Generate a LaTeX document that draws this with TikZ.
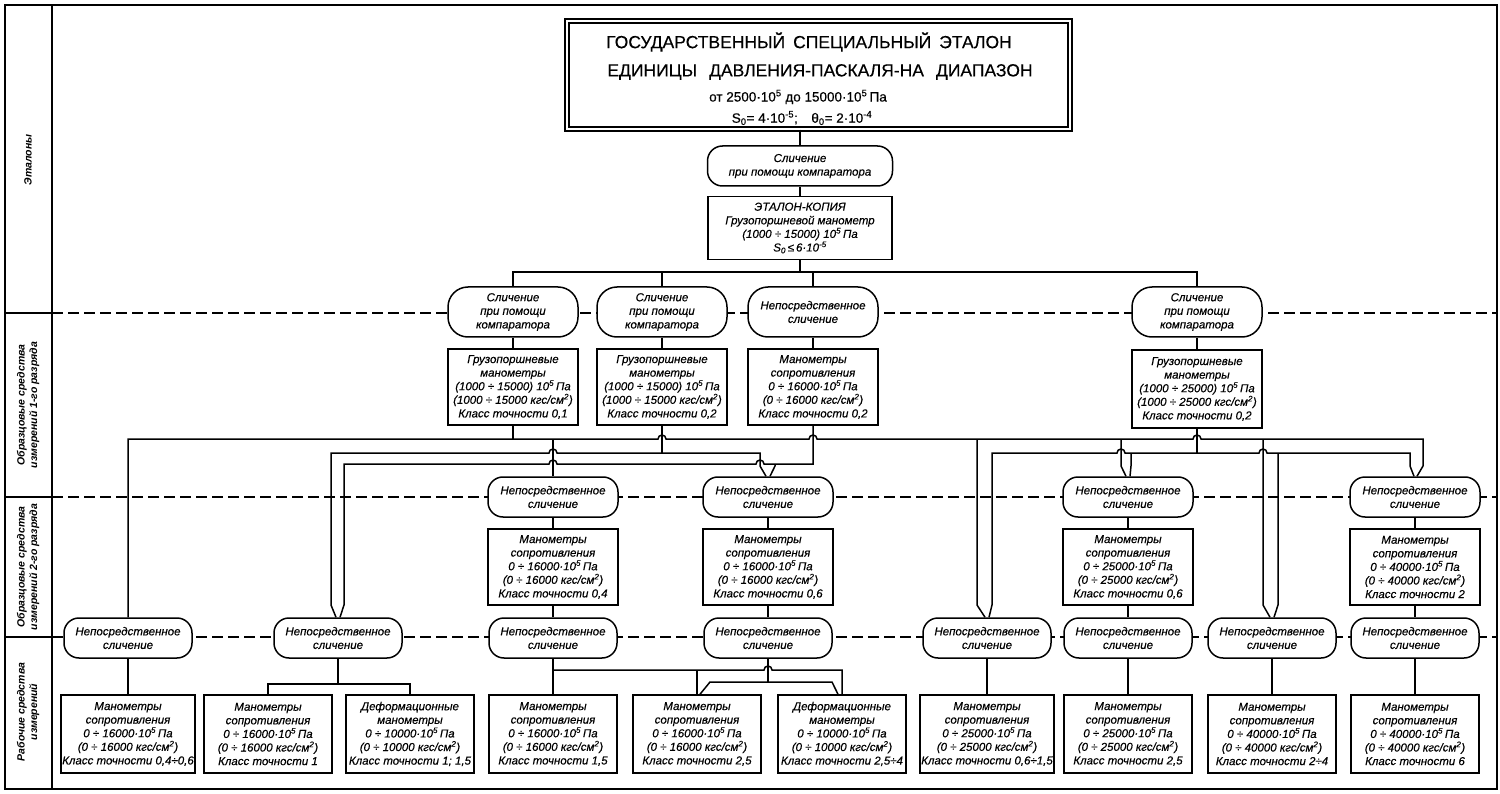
\documentclass[tikz,border=0pt]{standalone}
\usepackage{fontspec}
\setmainfont{Liberation Sans}
\newfontfamily\gostfont{Liberation Sans}[FakeBold=0.35]
\usetikzlibrary{positioning}
\newcommand{\boxfont}{\gostfont\itshape\fontsize{11.5}{13.6}\selectfont}
\newcommand{\pw}[1]{\textsuperscript{#1}}

\tikzset{
  sep/.style={line width=1.1pt, dash pattern=on 11pt off 5pt},
  oval/.style={draw, line width=1.5pt, fill=white, rounded corners=15pt, minimum width=130, minimum height=40, inner sep=1pt, align=center, font=\boxfont},
  bigoval/.style={oval, rounded corners=20pt, minimum height=50},
  oval3/.style={oval, minimum width=128},
  box/.style={draw, line width=1.5pt, fill=white, minimum width=130, minimum height=76, inner sep=1pt, align=center, font=\boxfont},
  box3/.style={box, minimum width=128, minimum height=78},
  strip/.style={rotate=90, align=center, font=\bfseries\itshape\fontsize{10.5}{12.5}\selectfont},
  titlebox/.style={draw, line width=1.4pt, double, double distance=2.6pt, minimum width=503, minimum height=108},
  titletext/.style={font=\gostfont\fontsize{17.5}{20}\selectfont, inner sep=0pt},
  subtext/.style={font=\gostfont\fontsize{13.5}{15}\selectfont, inner sep=0pt},
}

\begin{document}
\begin{tikzpicture}[x=1pt,y=-1pt,line width=1.5pt]
    \useasboundingbox (0,0) rectangle (1500,794);
    % frame and levels
    \draw[line width=1.6pt] (5,5) rectangle (1497,789);
    \draw (52,5) -- (52,789);
    \draw (5,313) -- (52,313);
    \draw (5,497) -- (52,497);
    \draw (5,637) -- (52,637);
    \draw[sep] (52,313) -- (1497,313);
    \draw[sep] (52,497) -- (1497,497);
    \draw[sep] (52,637) -- (1497,637);
    \node[strip] (s1) at (28,160) {Эталоны};
    \node[strip] (s2) at (28,405) {Образцовые средства\\измерений 1-го разряда};
    \node[strip] (s3) at (28,567) {Образцовые средства\\измерений 2-го разряда};
    \node[strip] (s4) at (28,712) {Рабочие средства\\измерений};

    % bus levels
    \coordinate (t0) at (0,272);
    \coordinate (l1) at (0,439);
    \coordinate (l2) at (0,453);
    \coordinate (l3) at (0,464);
    \coordinate (lv) at (0,466);
    \coordinate (lw) at (0,605);
    \coordinate (k3) at (0,670);
    \coordinate (k4) at (0,682);
    \coordinate (k2) at (0,684);

    % state standard
    \node[titlebox] (std) at (818.5,75) {};
    \node[titletext] (std1) at (809,42) {ГОСУДАРСТВЕННЫЙ\hspace{8pt}СПЕЦИАЛЬНЫЙ\hspace{8pt}ЭТАЛОН};
    \node[titletext] (std2) at (820,72) {ЕДИНИЦЫ\hspace{12pt}ДАВЛЕНИЯ-ПАСКАЛЯ-НА\hspace{12pt}ДИАПАЗОН};
    \node[subtext] (std3) at (798,97) {от 2500·10\pw{5} до 15000·10\pw{5}\,Па};
    \node[subtext] (std4) at (802,118) {S\textsubscript{0}= 4·10\pw{-5};\quad θ\textsubscript{0}= 2·10\pw{-4}};

    \node[oval, minimum width=185] (cmp) at (800,166) {Сличение\\при помощи компаратора};
    \node[box, minimum width=184, minimum height=63] (copy) at (800,228) {ЭТАЛОН-КОПИЯ\\Грузопоршневой манометр\\(1000 ÷ 15000) 10\pw{5}\,Па\\S\textsubscript{0}\,≤\,6·10\pw{-5}};

    % 1st rank
    \node[bigoval] (A1) at (513,312) {Сличение\\при помощи\\компаратора};
    \node[bigoval] (A2) at (662,312) {Сличение\\при помощи\\компаратора};
    \node[bigoval] (A3) at (813,312) {Непосредственное\\сличение};
    \node[bigoval] (A4) at (1197,312) {Сличение\\при помощи\\компаратора};
    \node[box] (B1) at (513,387) {Грузопоршневые\\манометры\\(1000 ÷ 15000) 10\pw{5}\,Па\\(1000 ÷ 15000 кгс/см\pw{2})\\Класс точности 0,1};
    \node[box] (B2) at (662,387) {Грузопоршневые\\манометры\\(1000 ÷ 15000) 10\pw{5}\,Па\\(1000 ÷ 15000 кгс/см\pw{2})\\Класс точности 0,2};
    \node[box] (B3) at (813,387) {Манометры\\сопротивления\\0 ÷ 16000·10\pw{5}\,Па\\(0 ÷ 16000 кгс/см\pw{2})\\Класс точности 0,2};
    \node[box, minimum height=78] (B4) at (1197,389) {Грузопоршневые\\манометры\\(1000 ÷ 25000) 10\pw{5}\,Па\\(1000 ÷ 25000 кгс/см\pw{2})\\Класс точности 0,2};

    % 2nd rank
    \node[oval] (O2a) at (553,497) {Непосредственное\\сличение};
    \node[oval] (O2b) at (768,497) {Непосредственное\\сличение};
    \node[oval] (O2c) at (1128,497) {Непосредственное\\сличение};
    \node[oval] (O2d) at (1415,497) {Непосредственное\\сличение};
    \node[box] (M2a) at (553,567) {Манометры\\сопротивления\\0 ÷ 16000·10\pw{5}\,Па\\(0 ÷ 16000 кгс/см\pw{2})\\Класс точности 0,4};
    \node[box] (M2b) at (768,567) {Манометры\\сопротивления\\0 ÷ 16000·10\pw{5}\,Па\\(0 ÷ 16000 кгс/см\pw{2})\\Класс точности 0,6};
    \node[box] (M2c) at (1128,567) {Манометры\\сопротивления\\0 ÷ 25000·10\pw{5}\,Па\\(0 ÷ 25000 кгс/см\pw{2})\\Класс точности 0,6};
    \node[box] (M2d) at (1415,567) {Манометры\\сопротивления\\0 ÷ 40000·10\pw{5}\,Па\\(0 ÷ 40000 кгс/см\pw{2})\\Класс точности 2};

    % working instruments
    \node[oval3] (C1) at (128,638) {Непосредственное\\сличение};
    \node[oval3] (C2) at (338,638) {Непосредственное\\сличение};
    \node[oval3] (C3) at (553,638) {Непосредственное\\сличение};
    \node[oval3] (C4) at (768,638) {Непосредственное\\сличение};
    \node[oval3] (C5) at (987,638) {Непосредственное\\сличение};
    \node[oval3] (C6) at (1128,638) {Непосредственное\\сличение};
    \node[oval3] (C7) at (1272,638) {Непосредственное\\сличение};
    \node[oval3] (C8) at (1415,638) {Непосредственное\\сличение};
    \node[box3] (W1) at (128,734) {Манометры\\сопротивления\\0 ÷ 16000·10\pw{5}\,Па\\(0 ÷ 16000 кгс/см\pw{2})\\Класс точности 0,4÷0,6};
    \node[box3] (W2) at (268,734) {Манометры\\сопротивления\\0 ÷ 16000·10\pw{5}\,Па\\(0 ÷ 16000 кгс/см\pw{2})\\Класс точности 1};
    \node[box3] (W3) at (410,734) {Деформационные\\манометры\\0 ÷ 10000·10\pw{5}\,Па\\(0 ÷ 10000 кгс/см\pw{2})\\Класс точности 1; 1,5};
    \node[box3] (W4) at (553,734) {Манометры\\сопротивления\\0 ÷ 16000·10\pw{5}\,Па\\(0 ÷ 16000 кгс/см\pw{2})\\Класс точности 1,5};
    \node[box3] (W5) at (697,734) {Манометры\\сопротивления\\0 ÷ 16000·10\pw{5}\,Па\\(0 ÷ 16000 кгс/см\pw{2})\\Класс точности 2,5};
    \node[box3] (W6) at (842,734) {Деформационные\\манометры\\0 ÷ 10000·10\pw{5}\,Па\\(0 ÷ 10000 кгс/см\pw{2})\\Класс точности 2,5÷4};
    \node[box3] (W7) at (987,734) {Манометры\\сопротивления\\0 ÷ 25000·10\pw{5}\,Па\\(0 ÷ 25000 кгс/см\pw{2})\\Класс точности 0,6÷1,5};
    \node[box3] (W8) at (1128,734) {Манометры\\сопротивления\\0 ÷ 25000·10\pw{5}\,Па\\(0 ÷ 25000 кгс/см\pw{2})\\Класс точности 2,5};
    \node[box3] (W9) at (1272,734) {Манометры\\сопротивления\\0 ÷ 40000·10\pw{5}\,Па\\(0 ÷ 40000 кгс/см\pw{2})\\Класс точности 2÷4};
    \node[box3] (W10) at (1415,734) {Манометры\\сопротивления\\0 ÷ 40000·10\pw{5}\,Па\\(0 ÷ 40000 кгс/см\pw{2})\\Класс точности 6};

    % top part
    \draw (std.south -| cmp.north) -- (cmp.north);
    \draw (cmp) -- (copy);
    \draw (copy.south) -- (copy.south |- t0);
    \draw (A1.north) |- (A4.north |- t0) -- (A4.north);
    \draw (A2.north) -- (A2.north |- t0);
    \draw (A3.north) -- (A3.north |- t0);
    \draw (A1) -- (B1);
    \draw (A2) -- (B2);
    \draw (A3) -- (B3);
    \draw (A4) -- (B4);

    % bus from B1
    \draw (C1.north) -- (C1.north |- l1) -- ([xshift=-4]B2.south |- l1)
        arc[start angle=180, end angle=360, radius=4] -- ([xshift=-4]B3.south |- l1)
        arc[start angle=180, end angle=360, radius=4] -- ([xshift=-4]B4.south |- l1)
        arc[start angle=180, end angle=360, radius=4] -- ([xshift=8]O2d.north |- l1)
        -- ([xshift=8]O2d.north |- lv) -- ([xshift=2]O2d.north);
    \draw (B1.south) -- (B1.south |- l1);
    \draw (O2a.north) -- (O2a.north |- l1);
    \draw ([xshift=-10]C5.north |- l1) -- ([xshift=-10]C5.north |- lw) -- ([xshift=-2]C5.north);
    \draw ([xshift=-7]O2c.north |- l1) -- ([xshift=-7]O2c.north |- lv) -- ([xshift=-2]O2c.north);
    \draw ([xshift=-9]C7.north |- l1) -- ([xshift=-9]C7.north |- lw) -- ([xshift=-2]C7.north);

    % bus from B2
    \draw ([xshift=-2]C2.north) -- ([xshift=-7]C2.north |- lw) -- ([xshift=-7]C2.north |- l2)
        -- ([xshift=-4]O2a.north |- l2) arc[start angle=180, end angle=360, radius=4]
        -- ([xshift=-8]O2b.north |- l2) -- ([xshift=-8]O2b.north |- lv) -- ([xshift=-2]O2b.north);
    \draw (B2.south) -- (B2.south |- l2);

    % bus from B3
    \draw ([xshift=2]C2.north) -- ([xshift=6]C2.north |- lw) -- ([xshift=6]C2.north |- l3)
        -- ([xshift=-4]O2a.north |- l3) arc[start angle=180, end angle=360, radius=4]
        -- ([xshift=-12]O2b.north |- l3) arc[start angle=180, end angle=360, radius=4]
        -- (B3.south |- l3) -- (B3.south);
    \draw ([xshift=7]O2b.north |- l3) -- ([xshift=7]O2b.north |- lv) -- ([xshift=2]O2b.north);

    % bus from B4
    \draw ([xshift=2]C5.north) -- ([xshift=5]C5.north |- lw) -- ([xshift=5]C5.north |- l2)
        -- ([xshift=-11]O2c.north |- l2) arc[start angle=180, end angle=360, radius=4]
        -- ([xshift=-13]C7.north |- l2) arc[start angle=180, end angle=360, radius=4]
        -- ([xshift=-5]O2d.north |- l2) -- ([xshift=-5]O2d.north |- lv) -- ([xshift=-1]O2d.north);
    \draw (B4.south) -- (B4.south |- l2);
    \draw ([xshift=3]O2c.north |- l2) -- ([xshift=3]O2c.north |- lv) -- ([xshift=2]O2c.north);
    \draw ([xshift=6]C7.north |- l2) -- ([xshift=6]C7.north |- lw) -- ([xshift=2]C7.north);

    % 2nd rank down
    \draw (O2a) -- (M2a);
    \draw (M2a) -- (C3);
    \draw (O2b) -- (M2b);
    \draw (M2b) -- (C4);
    \draw (O2c) -- (M2c);
    \draw (M2c) -- (C6);
    \draw (O2d) -- (M2d);
    \draw (M2d) -- (C8);

    % working instruments
    \draw (C1) -- (W1);
    \draw (C2.south) -- (C2.south |- k2);
    \draw (W2.north) |- (W3.north |- k2) -- (W3.north);
    \draw (C3.south) -- (W4.north);
    \draw (C3.south |- k3) -- ([xshift=-4]C4.south |- k3) arc[start angle=180, end angle=360, radius=4]
        -- (W6.north |- k3) -- (W6.north);
    \draw (W5.north |- k3) -- (W5.north);
    \draw (C4.south) -- (C4.south |- k4);
    \draw ([xshift=3]W5.north) -- ([xshift=13]W5.north |- k4) -- ([xshift=-10]W6.north |- k4) -- ([xshift=-4]W6.north);
    \draw (C5) -- (W7);
    \draw (C6) -- (W8);
    \draw (C7) -- (W9);
    \draw (C8) -- (W10);
\end{tikzpicture}
\end{document}
